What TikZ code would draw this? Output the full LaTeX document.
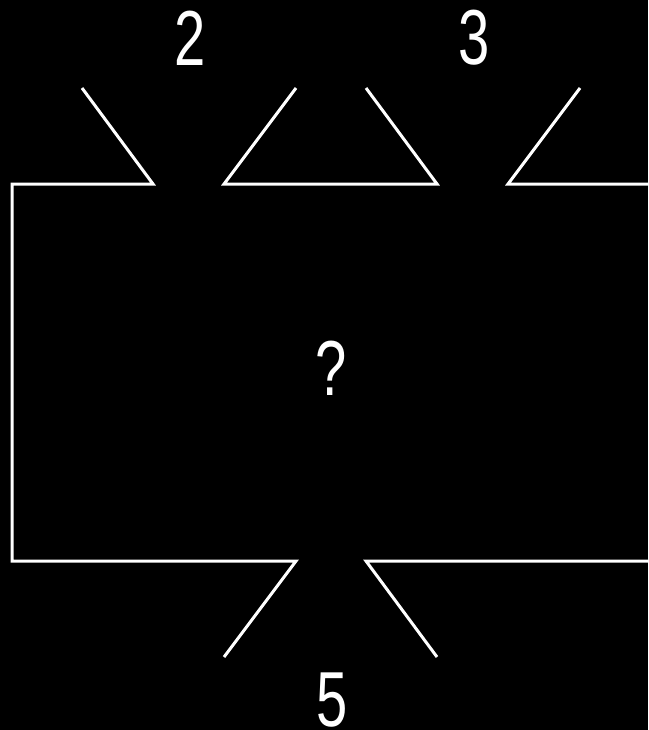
\documentclass[tikz,border=0pt]{standalone}
\usepackage{fontspec}
\setmainfont{Liberation Sans}
\begin{document}
\begin{tikzpicture}[x=1pt,y=-1pt,
  wire/.style={draw=white,line width=3pt,line join=miter,line cap=butt},
  lbl/.style={text=white,font=\fontsize{78}{78}\selectfont,xscale=0.72,inner sep=0pt}]
\fill[black] (0,0) rectangle (648,730);
\useasboundingbox (0,0) rectangle (648,730);
% corners and tips
\coordinate (tl) at (12,184);
\coordinate (bl) at (12,561);
\coordinate (a1) at (153,184);
\coordinate (a1t) at (82,88);
\coordinate (a2) at (224,184);
\coordinate (a2t) at (296,88);
\coordinate (a3) at (437,184);
\coordinate (a3t) at (366,88);
\coordinate (a4) at (508,184);
\coordinate (a4t) at (580,88);
\coordinate (tr) at (649,184);
\coordinate (b1) at (296,561);
\coordinate (b1t) at (224,657);
\coordinate (b2) at (366,561);
\coordinate (b2t) at (437,657);
\coordinate (br) at (649,561);
\draw[wire] (a1t) -- (a1) -- (tl) -- (bl) -- (b1) -- (b1t);
\draw[wire] (a2t) -- (a2) -- (a3) -- (a3t);
\draw[wire] (a4t) -- (a4) -- (tr);
\draw[wire] (b2t) -- (b2) -- (br);
\node[lbl] (n2) at (190,38) {2};
\node[lbl] (n3) at (474,38) {3};
\node[lbl] (q) at (331,368) {?};
\node[lbl] (n5) at (332,700) {5};
\end{tikzpicture}
\end{document}
